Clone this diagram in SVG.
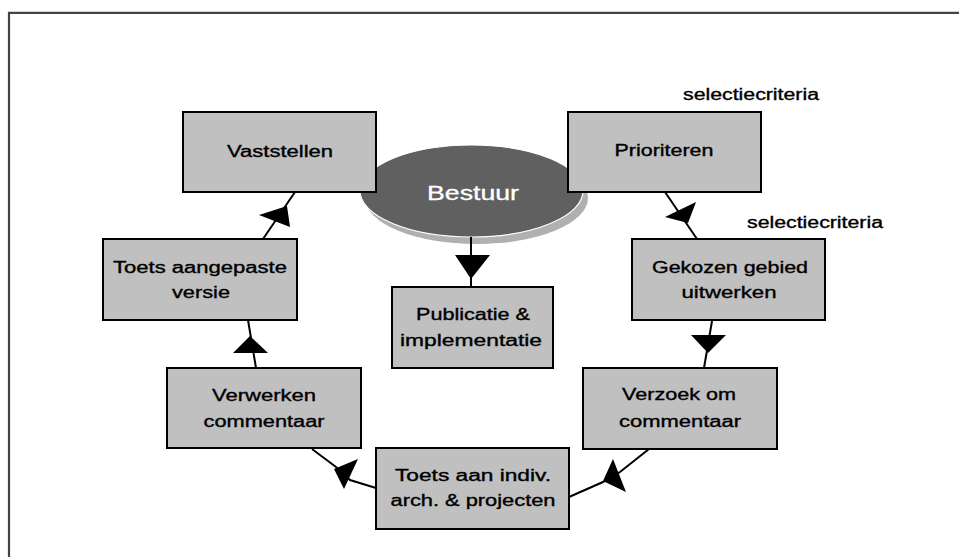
<svg xmlns="http://www.w3.org/2000/svg" width="959" height="557" viewBox="0 0 959 557">
<style>
.frame{fill:none;stroke:#444;stroke-width:2.2}
.box{fill:#c0c0c0;stroke:#000;stroke-width:2}
.t{font-family:"Liberation Sans",Arial,sans-serif;font-size:16px;fill:#000;stroke:#000;stroke-width:0.35;text-anchor:middle}
.tw{font-family:"Liberation Sans",Arial,sans-serif;font-size:20px;fill:#fff;stroke:#fff;stroke-width:0.3;text-anchor:middle}
.conn{fill:none;stroke:#000;stroke-width:2}
.head{fill:#000;stroke:none}
</style>
<rect x="0" y="0" width="959" height="557" fill="#fff"/>
<path class="frame" d="M9,557 V12.8 H959"/>

<g id="bestuur">
  <ellipse cx="476.5" cy="198" rx="111.5" ry="46" fill="#b0b0b0"/>
  <ellipse cx="471.5" cy="191" rx="111.5" ry="46" fill="#606060" stroke="#fff" stroke-width="1.2"/>
  <text class="tw" x="473" y="200" textLength="92" lengthAdjust="spacingAndGlyphs">Bestuur</text>
</g>

<g id="connectors">
  <path class="conn" d="M471,237 V287"/>
  <polygon class="head" points="455,255 490,255 471,279"/>
  <path class="conn" d="M263,239 L295,192"/>
  <polygon class="head" points="259,215 287,206 290,227"/>
  <path class="conn" d="M256,368 L248,320"/>
  <polygon class="head" points="233,353 268,353 250,336"/>
  <path class="conn" d="M376,488 L350,480 L336,467 L312,449"/>
  <polygon class="head" points="334,469 358,459 344,489"/>
  <path class="conn" d="M649,449 L620,472 L603,482 L569,497"/>
  <polygon class="head" points="613,459 603,481 626,492"/>
  <path class="conn" d="M712,321 L704,368"/>
  <polygon class="head" points="691,335 726,335 708,353"/>
  <path class="conn" d="M665,192 L697,239"/>
  <polygon class="head" points="665,217 696,202 688,223"/>
</g>

<g id="vaststellen">
  <rect class="box" x="183" y="112" width="193" height="80"/>
  <text class="t" x="280" y="157" textLength="106" lengthAdjust="spacingAndGlyphs">Vaststellen</text>
</g>
<g id="prioriteren">
  <rect class="box" x="568" y="112" width="193" height="80"/>
  <text class="t" x="664" y="156" textLength="99" lengthAdjust="spacingAndGlyphs">Prioriteren</text>
</g>
<g id="toets-aangepaste">
  <rect class="box" x="103" y="239" width="194" height="81"/>
  <text class="t" x="200" y="273" textLength="174" lengthAdjust="spacingAndGlyphs">Toets aangepaste</text>
  <text class="t" x="201" y="298" textLength="58" lengthAdjust="spacingAndGlyphs">versie</text>
</g>
<g id="publicatie">
  <rect class="box" x="392" y="287" width="161" height="81"/>
  <text class="t" x="473" y="320" textLength="114" lengthAdjust="spacingAndGlyphs">Publicatie &amp;</text>
  <text class="t" x="471" y="346" textLength="142" lengthAdjust="spacingAndGlyphs">implementatie</text>
</g>
<g id="gekozen">
  <rect class="box" x="632" y="239" width="193" height="81"/>
  <text class="t" x="730" y="273" textLength="156" lengthAdjust="spacingAndGlyphs">Gekozen gebied</text>
  <text class="t" x="729" y="298" textLength="95" lengthAdjust="spacingAndGlyphs">uitwerken</text>
</g>
<g id="verwerken">
  <rect class="box" x="167" y="368" width="194" height="80"/>
  <text class="t" x="264" y="401" textLength="104" lengthAdjust="spacingAndGlyphs">Verwerken</text>
  <text class="t" x="264" y="427" textLength="121" lengthAdjust="spacingAndGlyphs">commentaar</text>
</g>
<g id="toets-indiv">
  <rect class="box" x="376" y="448" width="193" height="81"/>
  <text class="t" x="473" y="481" textLength="156" lengthAdjust="spacingAndGlyphs">Toets aan indiv.</text>
  <text class="t" x="473" y="506" textLength="165" lengthAdjust="spacingAndGlyphs">arch. &amp; projecten</text>
</g>
<g id="verzoek">
  <rect class="box" x="583" y="368" width="194" height="81"/>
  <text class="t" x="679" y="400" textLength="114" lengthAdjust="spacingAndGlyphs">Verzoek om</text>
  <text class="t" x="680" y="427" textLength="122" lengthAdjust="spacingAndGlyphs">commentaar</text>
</g>

<g id="labels">
  <text class="t" x="751" y="100" textLength="136" lengthAdjust="spacingAndGlyphs">selectiecriteria</text>
  <text class="t" x="815" y="228" textLength="136" lengthAdjust="spacingAndGlyphs">selectiecriteria</text>
</g>
</svg>
